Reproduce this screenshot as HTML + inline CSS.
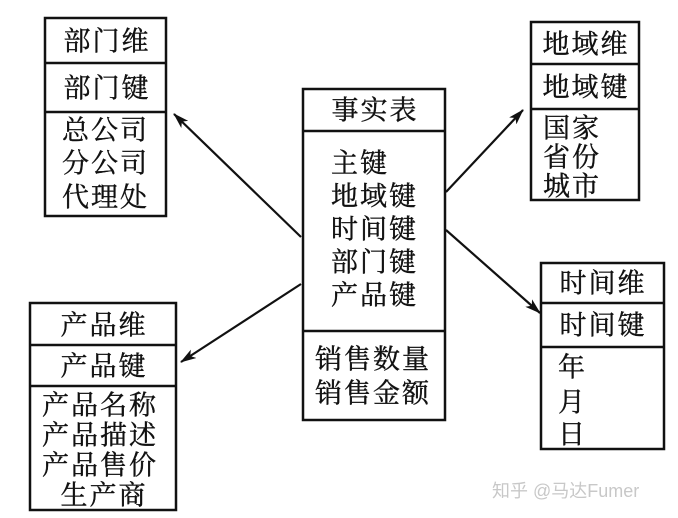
<!DOCTYPE html>
<html><head><meta charset="utf-8"><style>
html,body{margin:0;padding:0;background:#fff;}
svg{display:block;}
text{font-family:"Noto Serif CJK SC","Liberation Serif",serif;font-size:27px;fill:#111;stroke:#111;stroke-width:0.4;dominant-baseline:central;letter-spacing:2px;}
.c{text-anchor:middle;}
.w{font-family:"Liberation Sans","Noto Sans CJK SC",sans-serif;font-size:18px;fill:#c8c8c8;stroke:none;letter-spacing:0;}
</style></head><body>
<svg width="678" height="518" viewBox="0 0 678 518" xmlns="http://www.w3.org/2000/svg">
<defs><marker id="a" markerWidth="16" markerHeight="10" refX="15" refY="5" orient="auto" markerUnits="userSpaceOnUse"><path d="M0,0 L16,5 L0,10 L4,5 z" fill="#111"/></marker></defs>
<g fill="none" stroke="#111" stroke-width="2.5">
<rect x="45" y="18" width="121" height="198"/><line x1="45" y1="63" x2="166" y2="63"/><line x1="45" y1="112" x2="166" y2="112"/>
<rect x="303" y="89" width="142" height="331"/><line x1="303" y1="131" x2="445" y2="131"/><line x1="303" y1="331" x2="445" y2="331"/>
<rect x="531" y="22" width="108" height="178"/><line x1="531" y1="64" x2="639" y2="64"/><line x1="531" y1="109" x2="639" y2="109"/>
<rect x="30" y="303" width="146" height="207"/><line x1="30" y1="345" x2="176" y2="345"/><line x1="30" y1="386" x2="176" y2="386"/>
<rect x="541" y="263" width="123" height="186"/><line x1="541" y1="303" x2="664" y2="303"/><line x1="541" y1="347" x2="664" y2="347"/>
</g>
<g stroke="#111" stroke-width="2.2">
<line x1="301" y1="237" x2="174" y2="114" marker-end="url(#a)"/>
<line x1="301" y1="284" x2="181" y2="362" marker-end="url(#a)"/>
<line x1="446" y1="192" x2="523" y2="110" marker-end="url(#a)"/>
<line x1="446" y1="230" x2="540" y2="313" marker-end="url(#a)"/>
</g>
<g transform="translate(0,-2)">
<text class="c" x="107" y="41">部门维</text>
<text class="c" x="107" y="88">部门键</text>
<text x="62" y="130">总公司</text>
<text x="62" y="163">分公司</text>
<text x="62" y="197">代理处</text>
<text class="c" x="375" y="110">事实表</text>
<text x="331" y="163">主键</text>
<text x="331" y="196">地域键</text>
<text x="331" y="229">时间键</text>
<text x="331" y="262">部门键</text>
<text x="331" y="295">产品键</text>
<text x="315" y="359">销售数量</text>
<text x="315" y="393">销售金额</text>
<text class="c" x="586" y="44">地域维</text>
<text class="c" x="586" y="87">地域键</text>
<text x="543" y="128">国家</text>
<text x="543" y="157">省份</text>
<text x="543" y="186">城市</text>
<text class="c" x="104" y="325">产品维</text>
<text class="c" x="104" y="366">产品键</text>
<text x="42" y="405">产品名称</text>
<text x="42" y="435">产品描述</text>
<text x="42" y="465">产品售价</text>
<text class="c" x="104" y="495">生产商</text>
<text class="c" x="603" y="283">时间维</text>
<text class="c" x="603" y="325">时间键</text>
<text x="558" y="367">年</text>
<text x="558" y="402">月</text>
<text x="558" y="434">日</text>
</g>
<text class="w" x="492" y="491">知乎 @马达Fumer</text>
</svg>
</body></html>
